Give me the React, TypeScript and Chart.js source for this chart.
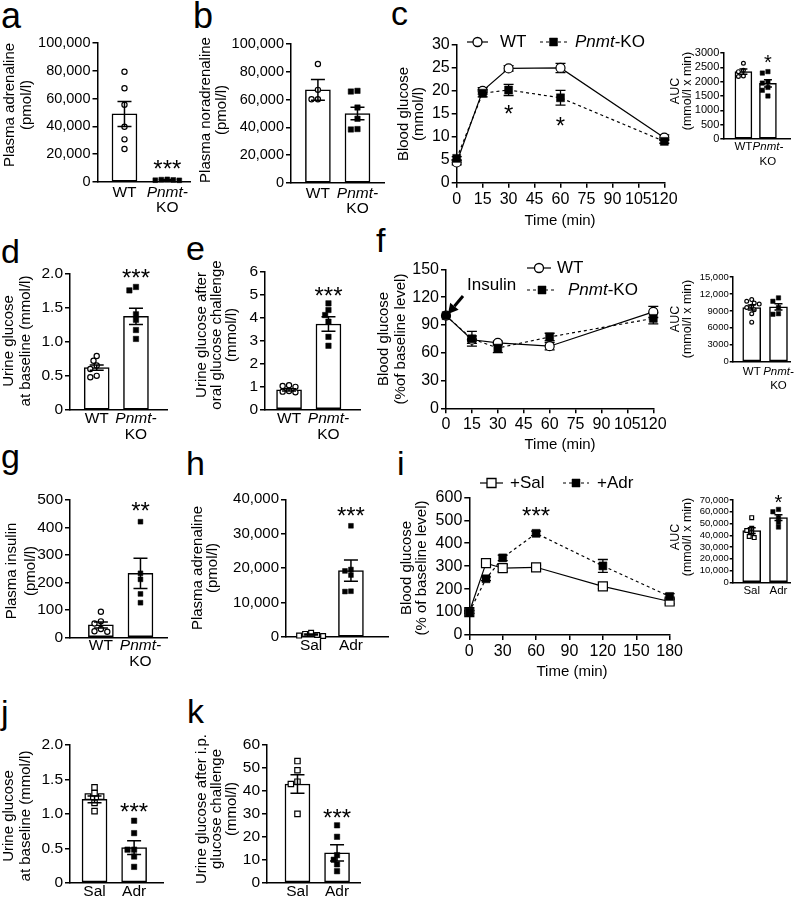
import React, { useEffect, useRef } from "react";
import { Chart, registerables } from "chart.js";

Chart.register(...registerables);

const FONT = "'Liberation Sans', Arial, Helvetica, sans-serif";

// ================= DATA =================
// (a) plasma adrenaline
const aMeans = [49000, 1500];
const aSems = [9000, 300];
const aWT = [79300, 67400, 55600, 39800, 30700, 23700];
const aKO = [1900, 1700, 1500, 1300, 1200];
const aTicks = [0, 20000, 40000, 60000, 80000, 100000];
const aStarText = ["", "***"];
const aStarY = [0, 13700];
// (b) plasma noradrenaline
const bMeans = [67000, 50000];
const bSems = [7500, 4500];
const bWT = [85600, 67000, 60300, 60300];
const bKO = [66300, 65800, 54300, 46200, 38800, 38500];
const bTicks = [0, 20000, 40000, 60000, 80000, 100000];
// (c) OGTT
const cTime = [0, 15, 30, 60, 120];
const cWT = [4.4, 20.0, 24.9, 25.0, 9.8];
const cWTSem = [0.5, 0.7, 0.6, 1.0, 0.6];
const cKO = [5.3, 19.5, 20.2, 18.5, 9.0];
const cKOSem = [0.4, 0.8, 1.2, 1.6, 0.4];
const cXTicks = [0, 15, 30, 45, 60, 75, 90, 105, 120];
const cYTicks = [0, 5, 10, 15, 20, 25, 30];
const cStarX = [30, 60];
const cStarY = [16.3, 13.7];
const cStarText = ["*", "*"];
const cAucMeans = [2350, 1940];
const cAucSems = [90, 130];
const cAucWT = [2640, 2400, 2350, 2200, 2180];
const cAucKO = [2350, 2300, 2000, 1950, 1800, 1700, 1500];
const cAucTicks = [0, 500, 1000, 1500, 2000, 2500, 3000];
const cAucStarText = ["", "*"];
const cAucStarY = [0, 2826];
// (d) urine glucose baseline
const dMeans = [0.62, 1.37];
const dSems = [0.04, 0.12];
const dWT = [0.79, 0.72, 0.65, 0.6, 0.5, 0.48];
const dKO = [1.8, 1.75, 1.4, 1.32, 1.17, 1.04];
const dTicks = [0, 0.5, 1.0, 1.5, 2.0];
const dStarText = ["", "***"];
const dStarY = [0, 2.02];
// (e) urine glucose after oral challenge
const eMeans = [0.85, 3.72];
const eSems = [0.05, 0.32];
const eWT = [1.05, 1.02, 0.98, 0.8, 0.77, 0.74];
const eKO = [4.62, 4.33, 4.11, 3.82, 3.16, 2.77];
const eTicks = [0, 1, 2, 3, 4, 5, 6];
const eStarText = ["", "***"];
const eStarY = [0, 5.2];
// (f) ITT
const fTime = [0, 15, 30, 60, 120];
const fWT = [100, 74, 70.5, 67, 104];
const fWTSem = [0, 4, 2, 4, 6];
const fKO = [100, 75, 65, 77, 97];
const fKOSem = [0, 8, 5, 4, 6];
const fXTicks = [0, 15, 30, 45, 60, 75, 90, 105, 120];
const fYTicks = [0, 30, 60, 90, 120, 150];
const fAucMeans = [9600, 9700];
const fAucSems = [450, 550];
const fAucWT = [11000, 10700, 10400, 10200, 9800, 9600, 9200, 8500, 7000];
const fAucKO = [11300, 10700, 9600, 8500, 8400];
const fAucTicks = [0, 3000, 6000, 9000, 12000, 15000];
// (g) plasma insulin
const gMeans = [45, 233];
const gSems = [11, 55];
const gWT = [93, 58, 50, 30, 22, 20];
const gKO = [421, 233, 211, 158, 126];
const gTicks = [0, 100, 200, 300, 400, 500];
const gStarText = ["", "**"];
const gStarY = [0, 482];
// (h) plasma adrenaline Sal/Adr
const hMeans = [700, 19300];
const hSems = [150, 3100];
const hSal = [1200, 900, 600, 400, 300];
const hAdr = [32300, 19600, 19200, 18000, 13300, 13200];
const hTicks = [0, 10000, 20000, 30000, 40000];
const hStarText = ["", "***"];
const hStarY = [0, 36900];
// (i) GTT Sal/Adr
const iTime = [0, 15, 30, 60, 120, 180];
const iSal = [100, 313, 291, 295, 212, 146];
const iSalSem = [6, 10, 15, 8, 10, 10];
const iAdr = [100, 245, 336, 443, 301, 168];
const iAdrSem = [6, 8, 12, 10, 28, 12];
const iXTicks = [0, 30, 60, 90, 120, 150, 180];
const iYTicks = [0, 100, 200, 300, 400, 500, 600];
const iStarX = [60];
const iStarY = [545];
const iStarText = ["***"];
const iAucMeans = [44000, 55000];
const iAucSems = [2500, 2500];
const iAucSal = [55000, 46000, 44000, 42000, 39000, 38000];
const iAucAdr = [62000, 60000, 55000, 51000, 47000];
const iAucTicks = [0, 10000, 20000, 30000, 40000, 50000, 60000, 70000];
const iAucStarText = ["", "*"];
const iAucStarY = [0, 72500];
// (j) urine glucose baseline Sal/Adr
const jMeans = [1.21, 0.51];
const jSems = [0.05, 0.1];
const jSal = [1.385, 1.3, 1.25, 1.25, 1.16, 1.04];
const jAdr = [0.9, 0.72, 0.48, 0.48, 0.38, 0.23];
const jTicks = [0, 0.5, 1.0, 1.5, 2.0];
const jStarText = ["", "***"];
const jStarY = [0, 1.11];
// (k) urine glucose after i.p. challenge
const kMeans = [43, 13];
const kSems = [4, 3.5];
const kSal = [53, 49, 44, 43, 30];
const kAdr = [25, 20, 12, 10, 8, 5];
const kTicks = [0, 10, 20, 30, 40, 50, 60];
const kStarText = ["", "***"];
const kStarY = [0, 30.8];

// ================= TYPES / HELPERS =================
type Seg = { t: string; it?: boolean };
type Marker = { style: "circle" | "rect"; filled: boolean; half: number };

const WT_L: Seg[][] = [[{ t: "WT" }]];
const KO_L: Seg[][] = [[{ t: "Pnmt-", it: true }], [{ t: "KO" }]];
const SAL_L: Seg[][] = [[{ t: "Sal" }]];
const ADR_L: Seg[][] = [[{ t: "Adr" }]];
const KO_LEG: Seg[] = [{ t: "Pnmt", it: true }, { t: "-KO" }];

const OC = (h: number): Marker => ({ style: "circle", filled: false, half: h });
const OS = (h: number): Marker => ({ style: "rect", filled: false, half: h });
const FS = (h: number): Marker => ({ style: "rect", filled: true, half: h });

const fmtComma = (v: number) =>
  v >= 10000 ? String(v).replace(/\B(?=(\d{3})+(?!\d))/g, ",") : String(v);
const fmtDec = (v: number) => (v === 0 ? "0" : v.toFixed(1));
const fmtPlain = (v: number) => String(v);

function markerProps(m: Marker) {
  const r = m.style === "rect" ? m.half / Math.SQRT1_2 : m.half;
  return {
    pointStyle: m.style,
    pointRadius: r,
    pointHoverRadius: r,
    pointBackgroundColor: m.filled ? "#000" : "#fff",
    pointBorderColor: "#000",
    pointBorderWidth: m.filled ? 0.5 : 1.2,
  };
}

function swarm(vals: number[], pxPerY: number, d: number): number[] {
  const idx = vals.map((_, i) => i).sort((a, b) => vals[b] - vals[a]);
  const placed: [number, number][] = [];
  const out = vals.map(() => 0);
  const minD2 = (d * 0.82) ** 2;
  for (const i of idx) {
    const y = vals[i] * pxPerY;
    for (let k = 0; k < 30; k++) {
      const x = (k % 2 === 1 ? -1 : 1) * Math.ceil(k / 2) * d * 0.5;
      if (placed.every(([px, py]) => (px - x) ** 2 + (py - y) ** 2 >= minD2)) {
        out[i] = x;
        placed.push([x, y]);
        break;
      }
    }
  }
  return out;
}

function drawSegs(ctx: any, segs: Seg[], x: number, y: number, size: number, align: "center" | "left") {
  const fonts = segs.map((s) => `${s.it ? "italic " : ""}${size}px ${FONT}`);
  const widths = segs.map((s, i) => {
    ctx.font = fonts[i];
    return ctx.measureText(s.t).width;
  });
  const total = widths.reduce((a, b) => a + b, 0);
  let cx = align === "center" ? x - total / 2 : x;
  ctx.textAlign = "left";
  ctx.textBaseline = "middle";
  ctx.fillStyle = "#000";
  segs.forEach((s, i) => {
    ctx.font = fonts[i];
    ctx.fillText(s.t, cx, y);
    cx += widths[i];
  });
}

function drawStar(ctx: any, text: string, x: number, y: number, size: number) {
  if (!text) return;
  ctx.font = `${size}px ${FONT}`;
  ctx.textAlign = "center";
  ctx.textBaseline = "alphabetic";
  ctx.fillStyle = "#000";
  ctx.fillText(text, x, y + 0.575 * size);
}

function drawMarker(ctx: any, m: Marker, x: number, y: number) {
  ctx.save();
  ctx.fillStyle = m.filled ? "#000" : "#fff";
  ctx.strokeStyle = "#000";
  ctx.lineWidth = m.filled ? 0.5 : 1.3;
  ctx.setLineDash([]);
  ctx.beginPath();
  if (m.style === "circle") ctx.arc(x, y, m.half, 0, Math.PI * 2);
  else ctx.rect(x - m.half, y - m.half, 2 * m.half, 2 * m.half);
  ctx.fill();
  ctx.stroke();
  ctx.restore();
}

function drawYTitle(ctx: any, lines: string[], xs: number[], cy: number, size: number) {
  ctx.font = `${size}px ${FONT}`;
  ctx.fillStyle = "#000";
  ctx.textAlign = "center";
  ctx.textBaseline = "middle";
  lines.forEach((ln, i) => {
    ctx.save();
    ctx.translate(xs[i], cy);
    ctx.rotate(-Math.PI / 2);
    ctx.fillText(ln, 0, 0);
    ctx.restore();
  });
}

function drawErr(ctx: any, x: number, yT: number, yB: number, cap: number) {
  ctx.beginPath();
  ctx.moveTo(x, yB);
  ctx.lineTo(x, yT);
  ctx.moveTo(x - cap / 2, yT);
  ctx.lineTo(x + cap / 2, yT);
  ctx.moveTo(x - cap / 2, yB);
  ctx.lineTo(x + cap / 2, yB);
  ctx.stroke();
}

type Box = { L: number; T: number; W: number; H: number; axisX: number; topY: number; zeroY: number; endX: number };
type Common = Box & {
  yTicks: number[];
  fmt: (v: number) => string;
  tickSize: number;
  tickLen?: number;
  tickPad?: number;
  title: string[];
  titleX: number[];
  titleCY: number;
  titleSize: number;
};
type BarCfg = Common & {
  xMin: number;
  xMax: number;
  means: number[];
  sems: number[];
  pts: number[][];
  markers: Marker[];
  labels: Seg[][][];
  labelSize: number;
  labelDY: number;
  labelLH: number;
  barW: number;
  cap: number;
  starText: string[];
  starY: number[];
  starSize: number;
};
type Series = { y: number[]; sem: number[]; marker: Marker; dash: boolean };
type LegendItem = { x1: number; x2: number; y: number; marker: Marker; dash: boolean; text: Seg[]; tx: number };
type LineCfg = Common & {
  xs: number[];
  xTicks: number[];
  series: Series[];
  cap: number;
  legend: LegendItem[];
  legendSize: number;
  xTitle: string;
  xTitleX: number;
  xTitleY: number;
  xTitleSize: number;
  starX: number[];
  starY: number[];
  starText: string[];
  starSize: number;
  arrow?: { x1: number; y1: number; x2: number; y2: number; text: string; tx: number; ty: number; size: number };
};

function yScale(c: Common) {
  return {
    type: "linear",
    min: c.yTicks[0],
    max: c.yTicks[c.yTicks.length - 1],
    afterBuildTicks: (s: any) => {
      s.ticks = c.yTicks.map((v) => ({ value: v }));
    },
    afterFit: (s: any) => {
      s.width = c.axisX - c.L;
    },
    ticks: {
      font: { family: FONT, size: c.tickSize },
      color: "#000",
      padding: c.tickPad ?? 2,
      autoSkip: false,
      callback: (v: any) => c.fmt(Number(v)),
    },
    grid: { drawOnChartArea: false, drawTicks: true, tickLength: c.tickLen ?? 5, color: "#000", lineWidth: 1.5 },
    border: { display: true, color: "#000", width: 1.5 },
  };
}

function baseOptions(c: Common) {
  return {
    animation: false,
    responsive: false,
    devicePixelRatio: 1,
    events: [],
    layout: {
      autoPadding: false,
      padding: { left: 0, top: c.topY - c.T, right: c.L + c.W - c.endX, bottom: 0 },
    },
    plugins: { legend: { display: false }, tooltip: { enabled: false }, title: { display: false } },
  };
}

function buildBar(canvas: HTMLCanvasElement, c: BarCfg) {
  const y0 = c.yTicks[0];
  const y1 = c.yTicks[c.yTicks.length - 1];
  const pxPerY = (c.zeroY - c.topY) / (y1 - y0);
  const pxPerX = (c.endX - c.axisX) / (c.xMax - c.xMin);
  const datasets: any[] = [
    {
      type: "bar",
      data: c.means.map((m, g) => ({ x: g, y: m })),
      backgroundColor: "#fff",
      borderColor: "#000",
      borderWidth: 1.5,
      borderSkipped: false,
      barThickness: c.barW,
      order: 3,
    },
  ];
  c.pts.forEach((vals, g) => {
    const m = c.markers[g];
    const offs = swarm(vals, pxPerY, 2 * m.half + 1.2);
    datasets.push({
      type: "scatter",
      data: vals.map((v, i) => ({ x: g + offs[i] / pxPerX, y: v })),
      ...markerProps(m),
      clip: false,
      order: 1,
    });
  });
  const plugin = {
    id: "barAnnot",
    afterDatasetsDraw(chart: any) {
      const ctx = chart.ctx;
      const xs = chart.scales.x;
      const ys = chart.scales.y;
      ctx.save();
      ctx.strokeStyle = "#000";
      ctx.lineWidth = 1.5;
      c.means.forEach((m, g) => {
        const x = xs.getPixelForValue(g);
        drawErr(ctx, x, ys.getPixelForValue(m + c.sems[g]), ys.getPixelForValue(m - c.sems[g]), c.cap);
      });
      c.starText.forEach((t, g) => drawStar(ctx, t, xs.getPixelForValue(g), ys.getPixelForValue(c.starY[g]), c.starSize));
      c.labels.forEach((lines, g) => {
        const x = xs.getPixelForValue(g);
        lines.forEach((segs, li) => {
          drawSegs(ctx, segs, x, c.zeroY - c.T + c.labelDY + li * c.labelLH, c.labelSize, "center");
        });
      });
      drawYTitle(ctx, c.title, c.titleX.map((v) => v - c.L), c.titleCY - c.T, c.titleSize);
      ctx.restore();
    },
  };
  const opts: any = baseOptions(c);
  opts.scales = {
    x: {
      type: "linear",
      min: c.xMin,
      max: c.xMax,
      offset: false,
      afterFit: (s: any) => {
        s.height = c.T + c.H - c.zeroY;
      },
      ticks: { display: false },
      grid: { display: false },
      border: { display: true, color: "#000", width: 1.5 },
    },
    y: yScale(c),
  };
  return new Chart(canvas, { type: "bar", data: { datasets }, options: opts, plugins: [plugin] } as any);
}

function buildLine(canvas: HTMLCanvasElement, c: LineCfg) {
  const datasets: any[] = c.series.map((s, si) => ({
    type: "line",
    data: c.xs.map((t, i) => ({ x: t, y: s.y[i] })),
    borderColor: "#000",
    borderWidth: 1.2,
    borderDash: s.dash ? [3, 3] : [],
    fill: false,
    tension: 0,
    ...markerProps(s.marker),
    clip: false,
    order: si === 0 ? 2 : 1,
  }));
  const plugin = {
    id: "lineAnnot",
    beforeDatasetsDraw(chart: any) {
      const ctx = chart.ctx;
      const xs = chart.scales.x;
      const ys = chart.scales.y;
      ctx.save();
      ctx.strokeStyle = "#000";
      ctx.lineWidth = 1.3;
      c.series.forEach((s) => {
        c.xs.forEach((t, i) => {
          if (!s.sem[i]) return;
          drawErr(ctx, xs.getPixelForValue(t), ys.getPixelForValue(s.y[i] + s.sem[i]), ys.getPixelForValue(s.y[i] - s.sem[i]), c.cap);
        });
      });
      ctx.restore();
    },
    afterDraw(chart: any) {
      const ctx = chart.ctx;
      const xs = chart.scales.x;
      const ys = chart.scales.y;
      ctx.save();
      c.starText.forEach((t, i) => drawStar(ctx, t, xs.getPixelForValue(c.starX[i]), ys.getPixelForValue(c.starY[i]), c.starSize));
      c.legend.forEach((it) => {
        const y = it.y - c.T;
        ctx.save();
        ctx.strokeStyle = "#000";
        ctx.lineWidth = 1.2;
        ctx.setLineDash(it.dash ? [3, 3] : []);
        ctx.beginPath();
        ctx.moveTo(it.x1 - c.L, y);
        ctx.lineTo(it.x2 - c.L, y);
        ctx.stroke();
        ctx.restore();
        drawMarker(ctx, it.marker, (it.x1 + it.x2) / 2 - c.L, y);
        drawSegs(ctx, it.text, it.tx - c.L, y, c.legendSize, "left");
      });
      ctx.font = `${c.xTitleSize}px ${FONT}`;
      ctx.textAlign = "center";
      ctx.textBaseline = "middle";
      ctx.fillStyle = "#000";
      ctx.fillText(c.xTitle, c.xTitleX - c.L, c.xTitleY - c.T);
      if (c.arrow) {
        const a = c.arrow;
        const x1 = a.x1 - c.L, y1 = a.y1 - c.T, x2 = a.x2 - c.L, y2 = a.y2 - c.T;
        const ang = Math.atan2(y2 - y1, x2 - x1);
        const hl = 10, hw = 5.5;
        const bx = x2 - hl * Math.cos(ang);
        const by = y2 - hl * Math.sin(ang);
        ctx.strokeStyle = "#000";
        ctx.fillStyle = "#000";
        ctx.lineWidth = 3;
        ctx.beginPath();
        ctx.moveTo(x1, y1);
        ctx.lineTo(bx, by);
        ctx.stroke();
        ctx.beginPath();
        ctx.moveTo(x2, y2);
        ctx.lineTo(bx + hw * Math.sin(ang), by - hw * Math.cos(ang));
        ctx.lineTo(bx - hw * Math.sin(ang), by + hw * Math.cos(ang));
        ctx.closePath();
        ctx.fill();
        drawSegs(ctx, [{ t: a.text }], a.tx - c.L, a.ty - c.T, a.size, "left");
      }
      drawYTitle(ctx, c.title, c.titleX.map((v) => v - c.L), c.titleCY - c.T, c.titleSize);
      ctx.restore();
    },
  };
  const opts: any = baseOptions(c);
  opts.scales = {
    x: {
      type: "linear",
      min: c.xTicks[0],
      max: c.xTicks[c.xTicks.length - 1],
      afterBuildTicks: (s: any) => {
        s.ticks = c.xTicks.map((v) => ({ value: v }));
      },
      afterFit: (s: any) => {
        s.height = c.T + c.H - c.zeroY;
      },
      ticks: {
        font: { family: FONT, size: c.tickSize },
        color: "#000",
        padding: 2,
        autoSkip: false,
        maxRotation: 0,
        minRotation: 0,
        callback: (v: any) => String(v),
      },
      grid: { drawOnChartArea: false, drawTicks: true, tickLength: 5, color: "#000", lineWidth: 1.5 },
      border: { display: true, color: "#000", width: 1.5 },
    },
    y: yScale(c),
  };
  return new Chart(canvas, { type: "line", data: { datasets }, options: opts, plugins: [plugin] } as any);
}

// ================= PANEL LAYOUTS =================
const BARS: BarCfg[] = [
  // a
  {
    L: 0, T: 28, W: 195, H: 195, axisX: 97.5, topY: 43, zeroY: 182, endX: 190,
    yTicks: aTicks, fmt: fmtComma, tickSize: 14.5,
    title: ["Plasma adrenaline", "(pmol/l)"], titleX: [10, 27], titleCY: 105, titleSize: 15,
    xMin: -0.63, xMax: 1.53, means: aMeans, sems: aSems, pts: [aWT, aKO], markers: [OC(2.6), FS(2.4)],
    labels: [WT_L, KO_L], labelSize: 15.5, labelDY: 10.5, labelLH: 15.5,
    barW: 25, cap: 14, starText: aStarText, starY: aStarY, starSize: 24,
  },
  // b
  {
    L: 195, T: 28, W: 205, H: 195, axisX: 291, topY: 44, zeroY: 183, endX: 384,
    yTicks: bTicks, fmt: fmtComma, tickSize: 14.5,
    title: ["Plasma noradrenaline", "(pmol/l)"], titleX: [206, 222], titleCY: 110, titleSize: 15,
    xMin: -0.68, xMax: 1.67, means: bMeans, sems: bSems, pts: [bWT, bKO], markers: [OC(2.6), FS(2.7)],
    labels: [WT_L, KO_L], labelSize: 15.5, labelDY: 10.5, labelLH: 15.5,
    barW: 25, cap: 14, starText: ["", ""], starY: [0, 0], starSize: 24,
  },
  // c inset
  {
    L: 655, T: 40, W: 145, H: 140, axisX: 723.3, topY: 53, zeroY: 139, endX: 790,
    yTicks: cAucTicks, fmt: fmtComma, tickSize: 11, tickLen: 3, tickPad: 1,
    title: ["AUC", "(mmol/l x min)"], titleX: [676, 687.5], titleCY: 91, titleSize: 12.5,
    xMin: -0.82, xMax: 1.9, means: cAucMeans, sems: cAucSems, pts: [cAucWT, cAucKO], markers: [OC(1.9), FS(2.2)],
    labels: [WT_L, KO_L], labelSize: 11.5, labelDY: 8, labelLH: 15,
    barW: 17, cap: 8, starText: cAucStarText, starY: cAucStarY, starSize: 20,
  },
  // d
  {
    L: 0, T: 255, W: 185, H: 190, axisX: 70, topY: 273.3, zeroY: 410, endX: 167,
    yTicks: dTicks, fmt: fmtDec, tickSize: 15.5,
    title: ["Urine glucose", "at baseline (mmol/l)"], titleX: [9, 26], titleCY: 341, titleSize: 15,
    xMin: -0.68, xMax: 1.79, means: dMeans, sems: dSems, pts: [dWT, dKO], markers: [OC(2.6), FS(2.7)],
    labels: [WT_L, KO_L], labelSize: 15.5, labelDY: 9, labelLH: 16,
    barW: 25, cap: 14, starText: dStarText, starY: dStarY, starSize: 24,
  },
  // e
  {
    L: 185, T: 255, W: 190, H: 190, axisX: 265, topY: 271.7, zeroY: 409.3, endX: 360,
    yTicks: eTicks, fmt: fmtPlain, tickSize: 15.5,
    title: ["Urine glucose after", "oral glucose challenge", "(mmol/l)"], titleX: [202, 217, 232], titleCY: 335, titleSize: 15,
    xMin: -0.61, xMax: 1.8, means: eMeans, sems: eSems, pts: [eWT, eKO], markers: [OC(2.6), FS(2.7)],
    labels: [WT_L, KO_L], labelSize: 15.5, labelDY: 9, labelLH: 16,
    barW: 25, cap: 14, starText: eStarText, starY: eStarY, starSize: 24,
  },
  // f inset
  {
    L: 655, T: 262, W: 145, H: 140, axisX: 732.7, topY: 277, zeroY: 361.7, endX: 790,
    yTicks: fAucTicks, fmt: fmtComma, tickSize: 9.5, tickLen: 3, tickPad: 1,
    title: ["AUC", "(mmol/l x min)"], titleX: [676, 688], titleCY: 319, titleSize: 12.5,
    xMin: -0.71, xMax: 1.43, means: fAucMeans, sems: fAucSems, pts: [fAucWT, fAucKO], markers: [OC(1.9), FS(2.2)],
    labels: [WT_L, KO_L], labelSize: 11.5, labelDY: 10, labelLH: 14,
    barW: 18, cap: 8, starText: ["", ""], starY: [0, 0], starSize: 20,
  },
  // g
  {
    L: 0, T: 485, W: 185, H: 185, axisX: 70, topY: 500, zeroY: 637.3, endX: 167,
    yTicks: gTicks, fmt: fmtPlain, tickSize: 15.5,
    title: ["Plasma insulin", "(pmol/l)"], titleX: [12, 31], titleCY: 571, titleSize: 15,
    xMin: -0.78, xMax: 1.67, means: gMeans, sems: gSems, pts: [gWT, gKO], markers: [OC(2.6), FS(2.4)],
    labels: [WT_L, KO_L], labelSize: 15.5, labelDY: 8, labelLH: 16,
    barW: 25, cap: 14, starText: gStarText, starY: gStarY, starSize: 24,
  },
  // h
  {
    L: 185, T: 485, W: 205, H: 185, axisX: 286, topY: 499.3, zeroY: 637, endX: 388,
    yTicks: hTicks, fmt: fmtComma, tickSize: 15,
    title: ["Plasma adrenaline", "(pmol/l)"], titleX: [198, 213], titleCY: 568, titleSize: 15,
    xMin: -0.63, xMax: 1.93, means: hMeans, sems: hSems, pts: [hSal, hAdr], markers: [OS(2.4), FS(2.4)],
    labels: [SAL_L, ADR_L], labelSize: 15.5, labelDY: 9, labelLH: 16,
    barW: 25, cap: 14, starText: hStarText, starY: hStarY, starSize: 24,
  },
  // i inset
  {
    L: 655, T: 485, W: 145, H: 120, axisX: 732.7, topY: 500, zeroY: 582.3, endX: 790,
    yTicks: iAucTicks, fmt: fmtComma, tickSize: 9.5, tickLen: 3, tickPad: 1,
    title: ["AUC", "(mmol/l x min)"], titleX: [676, 688], titleCY: 537, titleSize: 12.5,
    xMin: -0.71, xMax: 1.43, means: iAucMeans, sems: iAucSems, pts: [iAucSal, iAucAdr], markers: [OS(1.9), FS(2.2)],
    labels: [SAL_L, ADR_L], labelSize: 11.5, labelDY: 9, labelLH: 14,
    barW: 18, cap: 8, starText: iAucStarText, starY: iAucStarY, starSize: 20,
  },
  // j
  {
    L: 0, T: 732, W: 185, H: 166, axisX: 70, topY: 745, zeroY: 882.7, endX: 163,
    yTicks: jTicks, fmt: fmtDec, tickSize: 15.5,
    title: ["Urine glucose", "at baseline (mmol/l)"], titleX: [9, 26], titleCY: 816, titleSize: 15,
    xMin: -0.62, xMax: 1.73, means: jMeans, sems: jSems, pts: [jSal, jAdr], markers: [OS(2.7), FS(2.7)],
    labels: [SAL_L, ADR_L], labelSize: 15.5, labelDY: 9, labelLH: 16,
    barW: 25, cap: 14, starText: jStarText, starY: jStarY, starSize: 24,
  },
  // k
  {
    L: 185, T: 732, W: 190, H: 166, axisX: 267, topY: 745, zeroY: 882.7, endX: 360,
    yTicks: kTicks, fmt: fmtPlain, tickSize: 15.5,
    title: ["Urine glucose after i.p.", "glucose challenge", "(mmol/l)"], titleX: [202, 217, 232], titleCY: 809, titleSize: 15,
    xMin: -0.77, xMax: 1.58, means: kMeans, sems: kSems, pts: [kSal, kAdr], markers: [OS(2.7), FS(2.7)],
    labels: [SAL_L, ADR_L], labelSize: 15.5, labelDY: 9, labelLH: 16,
    barW: 25, cap: 14, starText: kStarText, starY: kStarY, starSize: 24,
  },
];

const LINES: LineCfg[] = [
  // c
  {
    L: 385, T: 25, W: 300, H: 210, axisX: 456.7, topY: 45, zeroY: 182.7, endX: 664.3,
    yTicks: cYTicks, fmt: fmtPlain, tickSize: 16,
    title: ["Blood glucose", "(mmol/l)"], titleX: [404, 419], titleCY: 114, titleSize: 15,
    xs: cTime, xTicks: cXTicks,
    series: [
      { y: cWT, sem: cWTSem, marker: OC(4.5), dash: false },
      { y: cKO, sem: cKOSem, marker: FS(4), dash: true },
    ],
    cap: 10,
    legend: [
      { x1: 467, x2: 488, y: 42, marker: OC(4.5), dash: false, text: [{ t: "WT" }], tx: 500 },
      { x1: 540, x2: 567, y: 42, marker: FS(4), dash: true, text: KO_LEG, tx: 575 },
    ],
    legendSize: 17,
    xTitle: "Time (min)", xTitleX: 560, xTitleY: 221, xTitleSize: 15,
    starX: cStarX, starY: cStarY, starText: cStarText, starSize: 24,
  },
  // f
  {
    L: 370, T: 245, W: 310, H: 215, axisX: 446, topY: 269.3, zeroY: 408.3, endX: 653.3,
    yTicks: fYTicks, fmt: fmtPlain, tickSize: 16,
    title: ["Blood glucose", "(%of baseline level)"], titleX: [384, 401], titleCY: 339, titleSize: 15,
    xs: fTime, xTicks: fXTicks,
    series: [
      { y: fWT, sem: fWTSem, marker: OC(4.5), dash: false },
      { y: fKO, sem: fKOSem, marker: FS(4), dash: true },
    ],
    cap: 10,
    legend: [
      { x1: 527, x2: 551, y: 268, marker: OC(4.5), dash: false, text: [{ t: "WT" }], tx: 557 },
      { x1: 527, x2: 557, y: 290, marker: FS(4), dash: true, text: KO_LEG, tx: 568 },
    ],
    legendSize: 17,
    xTitle: "Time (min)", xTitleX: 560, xTitleY: 445, xTitleSize: 15,
    starX: [], starY: [], starText: [], starSize: 24,
    arrow: { x1: 463, y1: 296, x2: 448, y2: 314, text: "Insulin", tx: 467, ty: 285, size: 17 },
  },
  // i
  {
    L: 390, T: 468, W: 295, H: 215, axisX: 469.3, topY: 497.3, zeroY: 635, endX: 675.7,
    yTicks: iYTicks, fmt: fmtPlain, tickSize: 16,
    title: ["Blood glucose", "(% of baseline level)"], titleX: [407, 422], titleCY: 568, titleSize: 15,
    xs: iTime, xTicks: iXTicks,
    series: [
      { y: iSal, sem: iSalSem, marker: OS(4.5), dash: false },
      { y: iAdr, sem: iAdrSem, marker: FS(4), dash: true },
    ],
    cap: 10,
    legend: [
      { x1: 480, x2: 503, y: 483, marker: OS(4.5), dash: false, text: [{ t: "+Sal" }], tx: 510 },
      { x1: 563, x2: 589, y: 483, marker: FS(4), dash: true, text: [{ t: "+Adr" }], tx: 597 },
    ],
    legendSize: 17,
    xTitle: "Time (min)", xTitleX: 572, xTitleY: 672, xTitleSize: 15,
    starX: iStarX, starY: iStarY, starText: iStarText, starSize: 24,
  },
];

const LETTERS = [
  { t: "a", x: 1, base: 28, size: 36 },
  { t: "b", x: 193, base: 28, size: 36 },
  { t: "c", x: 391, base: 25, size: 34 },
  { t: "d", x: 1, base: 263, size: 34 },
  { t: "e", x: 186, base: 260, size: 34 },
  { t: "f", x: 376, base: 252, size: 34 },
  { t: "g", x: 1, base: 468, size: 34 },
  { t: "h", x: 186, base: 475, size: 34 },
  { t: "i", x: 397, base: 475, size: 34 },
  { t: "j", x: 1, base: 724, size: 34 },
  { t: "k", x: 187, base: 723, size: 34 },
];

function Panel({ cfg, kind }: { cfg: any; kind: "bar" | "line" }) {
  const ref = useRef<HTMLCanvasElement>(null);
  useEffect(() => {
    const ch = kind === "bar" ? buildBar(ref.current!, cfg) : buildLine(ref.current!, cfg);
    return () => ch.destroy();
  }, []);
  return (
    <canvas
      ref={ref}
      width={cfg.W}
      height={cfg.H}
      style={{ position: "absolute", left: cfg.L, top: cfg.T, width: cfg.W, height: cfg.H }}
    />
  );
}

export default function App() {
  return (
    <div style={{ position: "absolute", left: 0, top: 0, width: 800, height: 898, background: "#fff", overflow: "hidden" }}>
      {LETTERS.map((l) => (
        <div
          key={l.t}
          style={{
            position: "absolute",
            left: l.x,
            top: l.base - 0.8465 * l.size,
            fontFamily: FONT,
            fontSize: l.size,
            lineHeight: `${l.size}px`,
            color: "#000",
          }}
        >
          {l.t}
        </div>
      ))}
      {BARS.map((c, i) => (
        <Panel key={"bar" + i} cfg={c} kind="bar" />
      ))}
      {LINES.map((c, i) => (
        <Panel key={"line" + i} cfg={c} kind="line" />
      ))}
    </div>
  );
}
